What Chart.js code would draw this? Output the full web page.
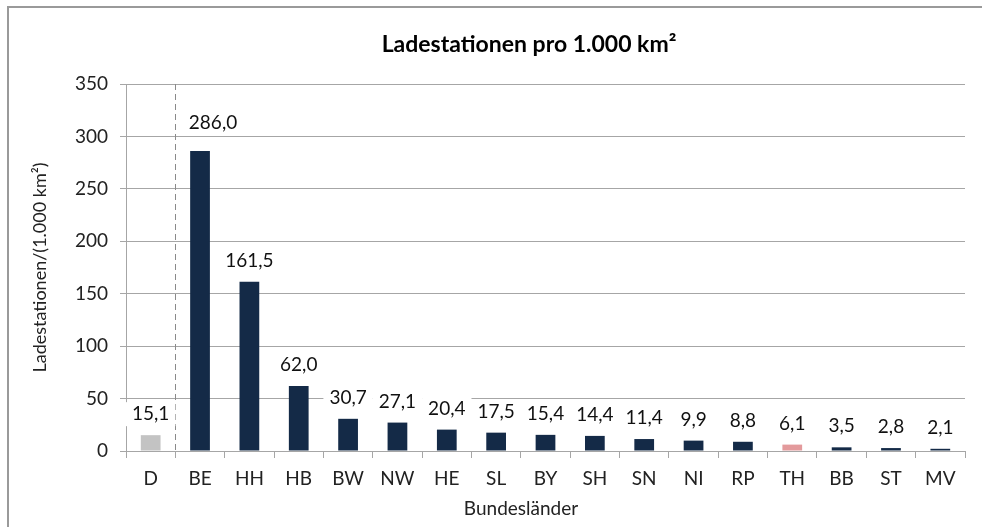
<!DOCTYPE html>
<html>
<head>
<meta charset="utf-8">
<script src="https://cdn.jsdelivr.net/npm/chart.js@4/dist/chart.umd.min.js"></script>
<style>
  html, body { margin: 0; padding: 0; background: #fff; }
  #wrap { position: relative; width: 982px; height: 527px; }
</style>
</head>
<body>
<div id="wrap"><canvas id="chart" width="982" height="527"></canvas></div>
<script>
// Data
const states = [ 'D', 'BE', 'HH', 'HB', 'BW', 'NW', 'HE', 'SL', 'BY', 'SH', 'SN', 'NI', 'RP', 'TH', 'BB', 'ST', 'MV' ];
const stationsPer1000 = [ 15.1, 286.0, 161.5, 62.0, 30.7, 27.1, 20.4, 17.5, 15.4, 14.4, 11.4, 9.9, 8.8, 6.1, 3.5, 2.8, 2.1 ];
const yTicks = [ 0, 50, 100, 150, 200, 250, 300, 350 ];

const chartTitle = 'Ladestationen pro 1.000 km²';
const xTitle = 'Bundesländer';
const yTitle = 'Ladestationen/(1.000 km²)';

const FONT = 'Lato, "Open Sans", sans-serif';
const NAVY = '#142a47';
const GREY_BAR = '#c3c3c3';
const PINK = '#e39a9c';
const GRID = '#a6a6a6';

const barColors = states.map( ( s ) => ( s === 'D' ? GREY_BAR : s === 'TH' ? PINK : NAVY ) );

const fmt = ( v ) => v.toFixed( 1 ).replace( '.', ',' );

// frame, title and x-axis title drawn on the canvas
const framePlugin = {
	id: 'frame',
	beforeDraw( chart ) {
		const { ctx } = chart;
		ctx.save();
		ctx.fillStyle = '#fff';
		ctx.fillRect( 0, 0, chart.width, chart.height );
		ctx.strokeStyle = '#9a9a9a';
		ctx.lineWidth = 2;
		ctx.beginPath();
		ctx.moveTo( 8, 527 );
		ctx.lineTo( 8, 7 );
		ctx.lineTo( 982, 7 );
		ctx.stroke();
		ctx.restore();
	},
	afterDraw( chart ) {
		const { ctx, chartArea } = chart;
		ctx.save();
		ctx.fillStyle = '#000';
		ctx.textAlign = 'center';
		ctx.textBaseline = 'middle';
		ctx.font = 'bold 23px ' + FONT;
		ctx.fillText( chartTitle, 529, 45 );
		ctx.font = '19px ' + FONT;
		ctx.fillStyle = '#222';
		ctx.fillText( xTitle, 521, chartArea.bottom + 58 );
		ctx.restore();
	},
};

// dashed separator between Germany and the states
const separatorPlugin = {
	id: 'separator',
	beforeDatasetsDraw( chart ) {
		const { ctx, chartArea, scales } = chart;
		const x = ( scales.x.getPixelForValue( 0 ) + scales.x.getPixelForValue( 1 ) ) / 2;
		ctx.save();
		ctx.strokeStyle = '#8a8a8a';
		ctx.lineWidth = 1;
		ctx.setLineDash( [ 6, 4 ] );
		ctx.beginPath();
		ctx.moveTo( Math.round( x ) + 0.5, chartArea.top );
		ctx.lineTo( Math.round( x ) + 0.5, chartArea.bottom );
		ctx.stroke();
		ctx.restore();
	},
};

// value labels on white boxes above the bars
// (the BE label was nudged right/up in the original so it clears the separator)
const labelPlugin = {
	id: 'valueLabels',
	afterDatasetsDraw( chart ) {
		const { ctx } = chart;
		const meta = chart.getDatasetMeta( 0 );
		ctx.save();
		ctx.font = '19px ' + FONT;
		ctx.textAlign = 'center';
		ctx.textBaseline = 'middle';
		meta.data.forEach( ( bar, i ) => {
			const text = fmt( stationsPer1000[ i ] );
			const nudged = states[ i ] === 'BE';
			const w = ctx.measureText( text ).width + 12;
			const cx = bar.x + ( nudged ? 13 : 0 );
			const cy = bar.y - ( nudged ? 28 : 21 );
			ctx.fillStyle = '#fff';
			ctx.fillRect( cx - w / 2, cy - 12, w, 24 );
			ctx.fillStyle = '#111';
			ctx.fillText( text, cx, cy );
		} );
		ctx.restore();
	},
};

new Chart( document.getElementById( 'chart' ), {
	type: 'bar',
	data: {
		labels: states,
		datasets: [
			{
				data: stationsPer1000,
				backgroundColor: barColors,
				categoryPercentage: 1,
				barPercentage: 0.4,
			},
		],
	},
	options: {
		responsive: false,
		animation: false,
		devicePixelRatio: 1,
		layout: { padding: { left: 8, right: 17, top: 84, bottom: 0 } },
		plugins: {
			legend: { display: false },
			tooltip: { enabled: false },
			title: { display: false },
		},
		scales: {
			x: {
				afterFit( scale ) {
					scale.height = 76;
				},
				grid: {
					offset: true,
					drawOnChartArea: false,
					color: GRID,
					tickLength: 7,
				},
				border: { color: GRID, width: 1 },
				ticks: {
					color: '#222',
					font: { family: FONT, size: 19 },
					padding: 9,
					maxRotation: 0,
					autoSkip: false,
				},
			},
			y: {
				min: 0,
				max: 350,
				afterFit( scale ) {
					scale.width = 118;
				},
				afterBuildTicks( scale ) {
					scale.ticks = yTicks.map( ( v ) => ( { value: v } ) );
				},
				grid: {
					color: GRID,
					tickLength: 6,
				},
				border: { color: GRID, width: 1 },
				ticks: {
					color: '#222',
					font: { family: FONT, size: 19 },
					padding: 12,
				},
				title: {
					display: true,
					text: yTitle,
					color: '#222',
					font: { family: FONT, size: 18 },
					padding: { top: 21, bottom: 0 },
				},
			},
		},
	},
	plugins: [ framePlugin, separatorPlugin, labelPlugin ],
} );
</script>
</body>
</html>
